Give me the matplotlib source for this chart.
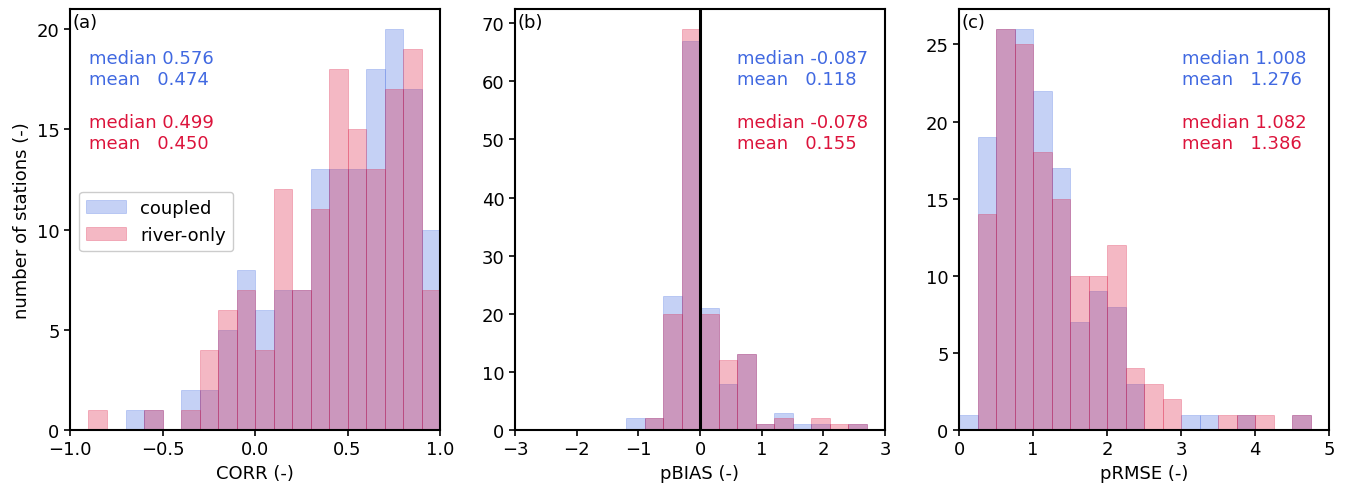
import numpy as np
import matplotlib
matplotlib.use("Agg")
import matplotlib.pyplot as plt
from matplotlib.ticker import MultipleLocator

# ---- data (counts per bin) ----
corr_edges = np.linspace(-1.0, 1.0, 21)
corr_coupled = [0, 0, 0, 1, 1, 0, 2, 2, 5, 8, 6, 7, 7, 13, 13, 13, 18, 20, 17, 10]
corr_river   = [0, 1, 0, 0, 1, 0, 1, 4, 6, 7, 4, 12, 7, 11, 18, 15, 13, 17, 19, 7]

pbias_edges = np.linspace(-3.0, 3.0, 21)
pbias_coupled = [0, 0, 0, 0, 0, 0, 2, 2, 23, 67, 21, 8, 13, 1, 3, 1, 1, 0, 1, 0]
pbias_river   = [0, 0, 0, 0, 0, 0, 0, 2, 20, 69, 20, 12, 13, 1, 2, 0, 2, 1, 1, 0]

prmse_edges = np.linspace(0.0, 5.0, 21)
prmse_coupled = [1, 19, 26, 26, 22, 17, 7, 9, 8, 3, 0, 0, 1, 1, 0, 1, 0, 0, 1, 0]
prmse_river   = [0, 14, 26, 25, 18, 15, 10, 10, 12, 4, 3, 2, 0, 0, 1, 1, 1, 0, 1, 0]

panel_labels = ["(a)", "(b)", "(c)"]
xlabels = ["CORR (-)", "pBIAS (-)", "pRMSE (-)"]
xlims = [(-1.0, 1.0), (-3.0, 3.0), (0.0, 5.0)]
ytick_steps = [5, 10, 5]
stats_coupled = [("0.576", "0.474"), ("-0.087", "0.118"), ("1.008", "1.276")]
stats_river = [("0.499", "0.450"), ("-0.078", "0.155"), ("1.082", "1.386")]

BLUE = "#4169E1"
RED = "#DC143C"
FS = 13

plt.rcParams['font.family'] = ['DejaVu Sans']
fig = plt.figure(figsize=(13.45, 4.89), dpi=100)

lefts = [70, 515, 959]
width_px = 370
bottom_px, top_px = 431, 10
W, H = 1345, 489
axes = []
for l in lefts:
    ax = fig.add_axes([l / W, 1 - bottom_px / H, width_px / W, (bottom_px - top_px) / H])
    axes.append(ax)

datasets = [
    (corr_edges, corr_coupled, corr_river),
    (pbias_edges, pbias_coupled, pbias_river),
    (prmse_edges, prmse_coupled, prmse_river),
]
text_x = [0.051, 0.60, 0.603]

for i, (ax, (edges, c, r)) in enumerate(zip(axes, datasets)):
    centers = 0.5 * (edges[:-1] + edges[1:])
    ax.hist(centers, bins=edges, weights=c, color=BLUE, alpha=0.3,
            edgecolor=(0.25, 0.41, 0.88, 0.2), linewidth=0.6, label="coupled")
    ax.hist(centers, bins=edges, weights=r, color=RED, alpha=0.3,
            edgecolor=(0.86, 0.08, 0.24, 0.25), linewidth=0.6, label="river-only")
    ax.set_xlim(*xlims[i])
    ax.yaxis.set_major_locator(MultipleLocator(ytick_steps[i]))
    ax.set_xlabel(xlabels[i], fontsize=FS)
    ax.tick_params(labelsize=FS, width=1.2, length=4)
    for s in ax.spines.values():
        s.set_linewidth(1.5)
    ax.text(0.008, 0.99, panel_labels[i], transform=ax.transAxes, fontsize=FS,
            ha="left", va="top")

    mc, ac = stats_coupled[i]
    mr, ar = stats_river[i]
    x0 = text_x[i]
    ax.text(x0, 0.905, f"median {mc}\nmean   {ac}", transform=ax.transAxes,
            fontsize=FS, color=BLUE, ha="left", va="top", linespacing=1.2)
    ax.text(x0, 0.753, f"median {mr}\nmean   {ar}", transform=ax.transAxes,
            fontsize=FS, color=RED, ha="left", va="top", linespacing=1.2)

axes[1].axvline(0, color="black", linewidth=2.2)
axes[0].set_ylabel("number of stations (-)", fontsize=FS)
axes[0].legend(loc="center left", bbox_to_anchor=(0.0, 0.495), fontsize=FS,
               framealpha=1.0, edgecolor="#cccccc", handlelength=2.2)

fig.savefig("out.png", dpi=100)
